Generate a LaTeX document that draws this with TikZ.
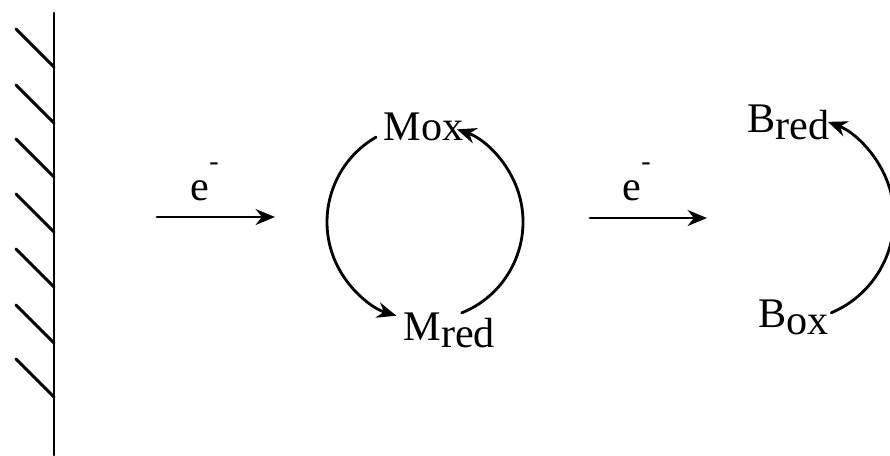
\documentclass[tikz,border=0pt]{standalone}
\usepackage{fontspec}
\setmainfont{Liberation Serif}
\usetikzlibrary{arrows.meta,calc}
\newcommand\lowsub[1]{\raisebox{-2pt}{#1}}
\begin{document}
\begin{tikzpicture}[>={Stealth[length=5.5pt,width=4.5pt]},line join=round,line cap=round,font=\fontsize{12}{14}\selectfont,
	txt/.style={inner sep=0pt,anchor=base west},
	flow/.style={->,line width=0.8pt}]
	\useasboundingbox (0,0) rectangle (8.9,4.55);
	\path (0.54,4.42) coordinate (W1)
	(0.54,0) coordinate (W2)
	(1.57,2.38) coordinate (A1) (2.75,2.38) coordinate (A2)
	(5.90,2.37) coordinate (A3) (7.07,2.37) coordinate (A4)
	(4.25,2.33) coordinate (Mc)
	(7.91,2.37) coordinate (Bc);
	% electrode
	\draw[line width=0.85pt] (W1)--(W2);
	\foreach \y in {3.88,3.32,2.78,2.23,1.68,1.12,0.58}
	{\draw[line width=0.85pt] (0.54,\y)--++(135:0.54);}
	% electron transfer
	\draw[flow] (A1)--(A2);
	\draw[flow] (A3)--(A4);
	\node[txt] (e1) at (1.90,2.55) {e\raisebox{4pt}{\textsuperscript{-}}};
	\node[txt] (e2) at (6.22,2.55) {e\raisebox{4pt}{\textsuperscript{-}}};
	% mediator and substrate
	\node[txt] (Mox) at (3.83,3.15) {Mox};
	\node[txt] (Mred) at (4.03,1.15) {M\lowsub{red}};
	\node[txt] (Bred) at (7.47,3.23) {B\lowsub{red}};
	\node[txt] (Box) at (7.58,1.28) {B\lowsub{ox}};
	\draw[flow] ($(Mc)+(120:0.98)$) arc[start angle=120,end angle=253,radius=0.98];
	\draw[flow] ($(Mc)+(-68:0.98)$) arc[start angle=-68,end angle=71,radius=0.98];
	\draw[flow] ($(Bc)+(-67:1.03)$) arc[start angle=-67,end angle=69,radius=1.03];
\end{tikzpicture}
\end{document}
